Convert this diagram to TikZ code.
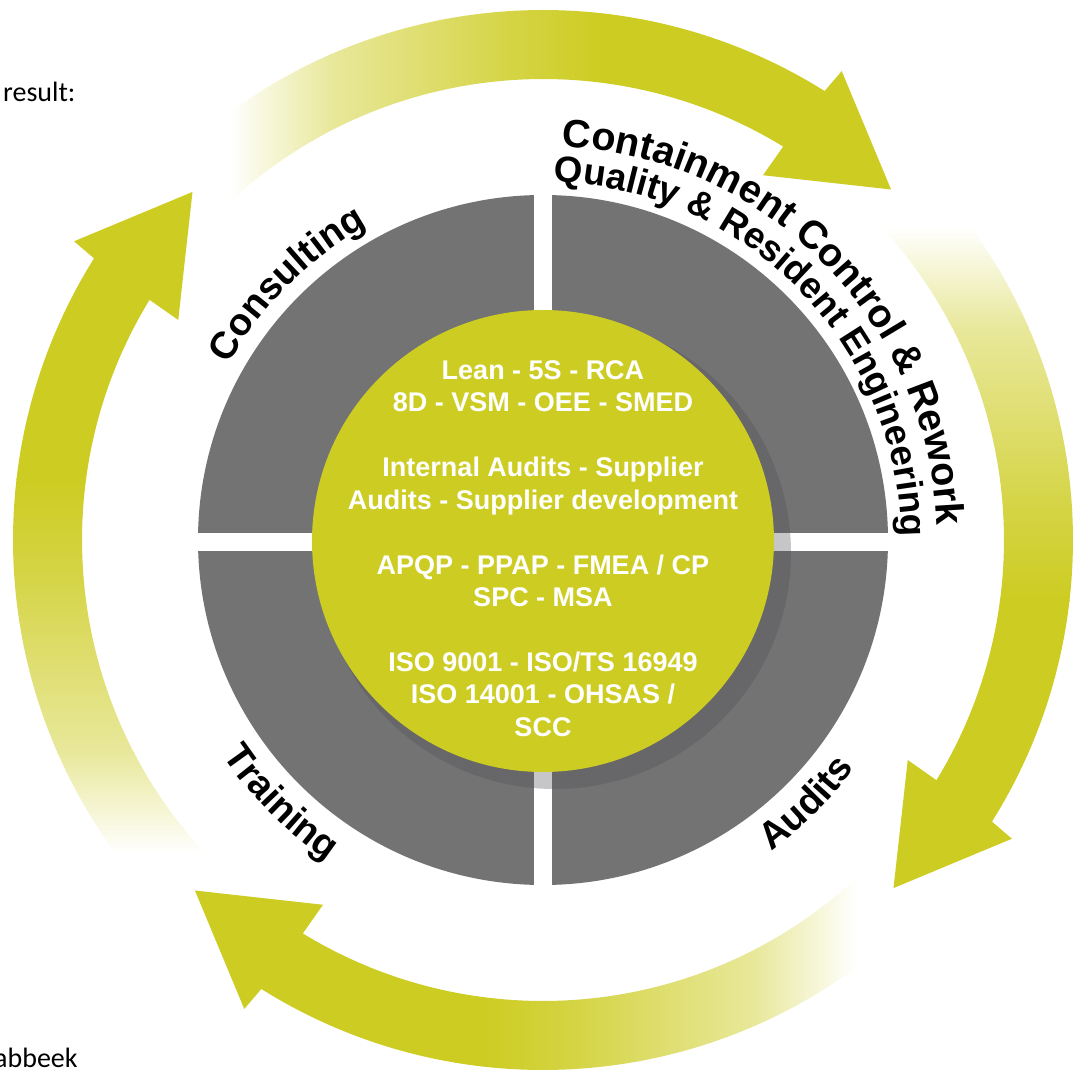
\documentclass[tikz,border=0pt]{standalone}
\usepackage{fontspec}
\setmainfont{Liberation Sans}
\newfontfamily\calib{Carlito}
\usetikzlibrary{decorations.text}
\definecolor{ag}{RGB}{205,204,34}
\definecolor{quad}{RGB}{115,115,115}
\definecolor{shadowc}{RGB}{80,80,86}
\newcommand\lblfont{\fontsize{38}{40}\selectfont\bfseries}
\newcommand\lblfontA{\fontsize{39.5}{42}\selectfont\bfseries}
\newcommand\lblfontB{\fontsize{36.7}{40}\selectfont\bfseries}
\tikzset{
  pagetext/.style={font=\calib\fontsize{28}{30}\selectfont, anchor=base west, inner sep=0pt},
  coretextstyle/.style={text=white, align=center, inner sep=0pt, font=\fontsize{27}{32.45}\selectfont\bfseries},
}
\begin{document}
\begin{tikzpicture}[x=1pt,y=1pt]
\useasboundingbox (-543,-530) rectangle (540,540);
\fill[white] (-543,-530) rectangle (540,540);
% four curved arrows with fading tails
\foreach \rot in {0,-90,-180,-270}{
 \begin{scope}[transform canvas={rotate=\rot}]
  \begin{scope}
   \clip (126.2:530) arc[start angle=126.2, end angle=57.9, radius=530] -- (57.5:556) -- (45.2:494) -- (58.9:426) -- (58.6:461) arc[start angle=58.6, end angle=132.76, radius=461] -- cycle;
   \shade[left color=white, right color=ag!45!white] (-313.5,300) rectangle (-212,600);
   \shade[left color=ag!45!white, right color=ag!85!white] (-213,300) rectangle (-29,600);
   \shade[left color=ag!85!white, right color=ag] (-30,300) rectangle (61,600);
   \fill[ag] (60,300) rectangle (600,600);
  \end{scope}
 \end{scope}
}
% gray quadrants
\fill[quad] (0,0) circle[radius=345];
\fill[white] (-8.7,-346) rectangle (9.3,346);
\fill[white] (-346,-10.7) rectangle (346,7.3);
% shadow and core
\fill[shadowc, fill opacity=0.32] (12,-13) circle[radius=236];
\node[circle, fill=ag, minimum size=462pt, inner sep=0pt] (core) at (0,-1) {};
\node[coretextstyle] (coretext) at (0,-8.5) {Lean - 5S - RCA\\8D - VSM - OEE - SMED\\[32.45pt]Internal Audits - Supplier\\Audits - Supplier development\\[32.45pt]APQP - PPAP - FMEA / CP\\SPC - MSA\\[32.45pt]ISO 9001 - ISO/TS 16949\\ISO 14001 - OHSAS /\\SCC};
% ring labels
\path[decorate, decoration={text along path, text align=center, text={|\lblfont|Consulting}}] (170:360) arc[start angle=170, end angle=100, radius=360];
\path[decorate, decoration={text along path, text={|\lblfontA|Containment Control {\&} Rework}}] (87.3:394) arc[start angle=87.3, end angle=-30, radius=394];
\path[decorate, decoration={text along path, text={|\lblfontB|Quality {\&} Resident Engineering}}] (88.3:358) arc[start angle=88.3, end angle=-30, radius=358];
\path[decorate, decoration={text along path, text align=center, text={|\lblfont|Training}}] (195:386) arc[start angle=195, end angle=255, radius=386];
\path[decorate, decoration={text along path, text align=center, text={|\lblfont|Audits}}] (-75:386) arc[start angle=-75, end angle=-15, radius=386];
% page text fragments
\node[pagetext] (res) at (-540,438) {result:};
\node[pagetext] (abb) at (-549,-527) {abbeek};
\end{tikzpicture}
\end{document}
